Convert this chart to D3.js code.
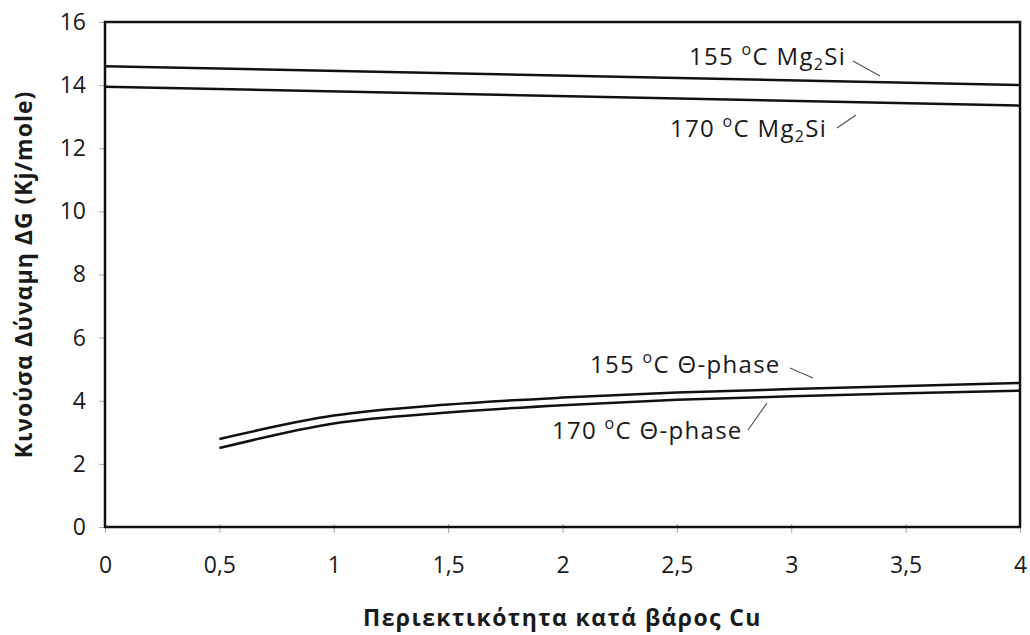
<!DOCTYPE html>
<html>
<head>
<meta charset="utf-8">
<script src="https://cdnjs.cloudflare.com/ajax/libs/d3/7.8.5/d3.min.js"></script>
<style>
  html, body { margin: 0; padding: 0; background: #fff; }
  svg { display: block; }
  text { font-family: "Open Sans", "Lato", sans-serif; fill: #1a1a1a; }
</style>
</head>
<body>
<svg id="chart" width="1030" height="635"></svg>
<script>
// Copper content (wt %) and driving force ΔG (kJ/mole) per phase and ageing temperature
const cuMg2Si = [0, 4];
const mg2si155 = [14.6, 14.0];
const mg2si170 = [13.95, 13.35];

const cuTheta = [0.5, 1, 1.5, 2, 2.5, 3, 3.5, 4];
const theta155 = [2.79, 3.53, 3.88, 4.10, 4.26, 4.37, 4.47, 4.56];
const theta170 = [2.50, 3.28, 3.63, 3.86, 4.03, 4.14, 4.24, 4.32];

const xTicks = [0, 0.5, 1, 1.5, 2, 2.5, 3, 3.5, 4];
const xTickLabels = ["0", "0,5", "1", "1,5", "2", "2,5", "3", "3,5", "4"];
const yTicks = [0, 2, 4, 6, 8, 10, 12, 14, 16];

const xTitle = "Περιεκτικότητα κατά βάρος Cu";
const yTitle = "Κινούσα Δύναμη ΔG (Kj/mole)";

const margin = { left: 105, right: 10, top: 22, bottom: 108 };
const W = 1030, H = 635;
const svg = d3.select("#chart");

const x = d3.scaleLinear().domain([0, 4]).range([margin.left, W - margin.right]);
const y = d3.scaleLinear().domain([0, 16]).range([H - margin.bottom, margin.top]);

// axes with short grey ticks
const xAxis = svg.append("g")
  .attr("transform", `translate(0,${y(0)})`)
  .call(d3.axisBottom(x).tickValues(xTicks).tickSize(6).tickPadding(24)
    .tickFormat((d, i) => xTickLabels[i]));
const yAxis = svg.append("g")
  .attr("transform", `translate(${x(0)},0)`)
  .call(d3.axisLeft(y).tickValues(yTicks).tickSize(6).tickPadding(13));
[xAxis, yAxis].forEach(g => {
  g.select(".domain").remove();
  g.selectAll(".tick line").attr("stroke", "#aaa").attr("stroke-width", 1);
  g.selectAll(".tick text").style("font-size", "23px").attr("fill", "#1a1a1a");
});
xAxis.selectAll(".tick line").attr("y1", -3);

// plot frame
svg.append("rect")
  .attr("x", x(0)).attr("y", y(16))
  .attr("width", x(4) - x(0)).attr("height", y(0) - y(16))
  .attr("fill", "none").attr("stroke", "#111").attr("stroke-width", 2.5);

// series curves
const line = d3.line().x(d => x(d[0])).y(d => y(d[1])).curve(d3.curveMonotoneX);
const series = [
  [cuMg2Si, mg2si155],
  [cuMg2Si, mg2si170],
  [cuTheta, theta155],
  [cuTheta, theta170]
];
series.forEach(([xs, ys]) => {
  svg.append("path")
    .datum(xs.map((v, i) => [v, ys[i]]))
    .attr("d", line)
    .attr("fill", "none")
    .attr("stroke", "#111")
    .attr("stroke-width", 2.5);
});

// series labels with leader lines
function seriesLabel(tx, ty, temp, phase, sub, rest, leader) {
  const t = svg.append("text").attr("x", tx).attr("y", ty)
    .style("font-size", "24px").style("letter-spacing", "1.3px");
  t.append("tspan").text(temp + " ");
  t.append("tspan").text("o").attr("dy", -10).style("font-size", "16px");
  t.append("tspan").text("C " + phase).attr("dy", 10);
  if (sub) {
    t.append("tspan").text(sub).attr("dy", 5).style("font-size", "16px");
    t.append("tspan").text(rest).attr("dy", -5);
  }
  svg.append("line")
    .attr("x1", leader[0]).attr("y1", leader[1])
    .attr("x2", leader[2]).attr("y2", leader[3])
    .attr("stroke", "#555").attr("stroke-width", 1.2);
}
seriesLabel(689, 65, "155", "Mg", "2", "Si", [853, 61, 880, 76]);
seriesLabel(670, 137, "170", "Mg", "2", "Si", [837, 128, 856, 115]);
seriesLabel(590, 373, "155", "Θ-phase", null, null, [790, 368, 813, 378]);
seriesLabel(552, 439, "170", "Θ-phase", null, null, [748, 430, 767, 403]);

// axis titles
svg.append("text")
  .attr("x", (x(0) + x(4)) / 2).attr("y", 626)
  .attr("text-anchor", "middle")
  .style("font-size", "23px").style("font-weight", "bold").style("letter-spacing", "1.4px")
  .text(xTitle);
svg.append("text")
  .attr("transform", `translate(32,${(y(0) + y(16)) / 2}) rotate(-90)`)
  .attr("text-anchor", "middle")
  .style("font-size", "23px").style("font-weight", "bold").style("letter-spacing", "1px")
  .text(yTitle);
</script>
</body>
</html>
